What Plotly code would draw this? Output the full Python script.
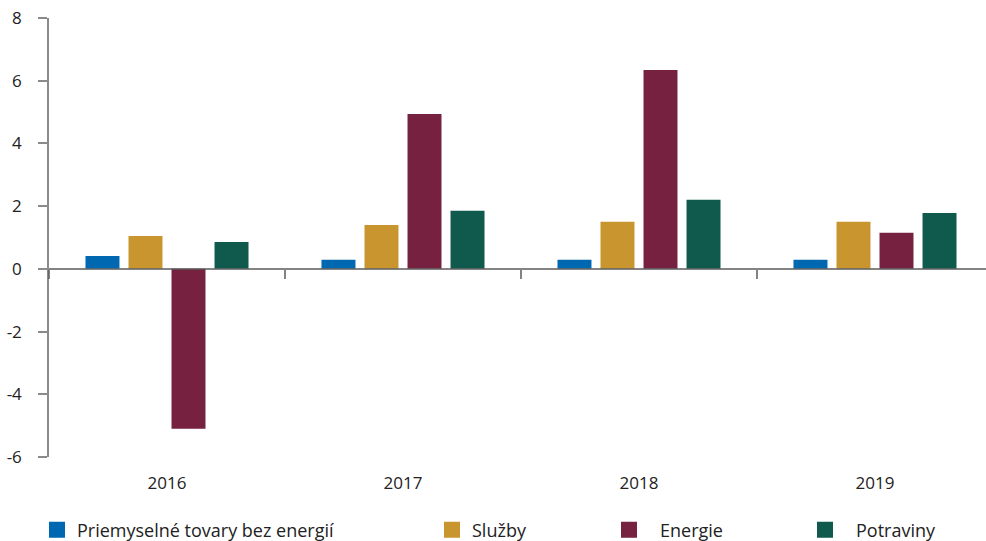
import plotly.graph_objects as go

years = ["2016", "2017", "2018", "2019"]
series_names = ["Priemyselné tovary bez energií", "Služby", "Energie", "Potraviny"]
priemysel = [0.41, 0.29, 0.29, 0.29]
sluzby = [1.05, 1.40, 1.50, 1.50]
energie = [-5.10, 4.94, 6.34, 1.15]
potraviny = [0.86, 1.85, 2.20, 1.78]
colors = ["#0067B1", "#C8952E", "#75213F", "#10594D"]
yticks = [-6, -4, -2, 0, 2, 4, 6, 8]
yticklabels = ["-6", "-4", "-2", "0", "2", "4", "6", "8"]

W, H = 986, 541
ml, mt, mb, mr = 49, 18, 84, 0
plot_w = W - ml - mr
plot_h = H - mt - mb

values = [priemysel, sluzby, energie, potraviny]
# legend placement: (left px, item width)
legend_place = [(37, 30), (432, 30), (598, 52), (794, 52)]

fig = go.Figure()
for i, (name, vals, col) in enumerate(zip(series_names, values, colors)):
    lg = "legend" if i == 0 else f"legend{i+1}"
    fig.add_trace(go.Bar(
        x=years, y=vals, name=name, marker_color=col, marker_line_width=0,
        showlegend=False, legendgroup=name,
    ))
    fig.add_trace(go.Scatter(
        x=[years[0]], y=[None], name=name, mode="markers", legend=lg,
        legendgroup=name,
        marker=dict(symbol="square", size=16, color=col),
        hoverinfo="skip",
    ))

# invisible trace for the zero-crossing category axis
fig.add_trace(go.Scatter(x=years, y=[None]*4, xaxis="x2", showlegend=False,
                         hoverinfo="skip", mode="markers"))

ymin, ymax = -6, 8
xr = [-0.5, -0.5 + plot_w / 236.0]
font = dict(family="'Open Sans', Lato, sans-serif", size=17, color="#222222")
lfont = dict(family="'Open Sans', Lato, sans-serif", size=18, color="#222222")

layout_legends = {}
for i, (px, iw) in enumerate(legend_place):
    key = "legend" if i == 0 else f"legend{i+1}"
    layout_legends[key] = dict(
        x=(px - ml) / plot_w, y=(mt + plot_h - 530) / plot_h,
        xanchor="left", yanchor="middle", orientation="h",
        font=lfont, bgcolor="rgba(0,0,0,0)", borderwidth=0,
        itemsizing="trace", itemwidth=iw,
    )

fig.update_layout(
    width=W, height=H,
    margin=dict(l=ml, r=mr, t=mt, b=mb, pad=0, autoexpand=False),
    paper_bgcolor="white", plot_bgcolor="white",
    font=font,
    barmode="group", bargap=0.271, bargroupgap=0.21,
    xaxis=dict(type="category", range=xr, showline=False, showgrid=False,
               zeroline=False, ticks="", ticklabelstandoff=14,
               tickfont=font),
    xaxis2=dict(type="category", range=xr, overlaying="x", anchor="free",
                position=(0 - ymin) / (ymax - ymin), side="bottom",
                showline=True, linecolor="rgba(90,90,90,0.75)", linewidth=2,
                ticks="outside", tickson="boundaries", ticklen=9,
                tickcolor="rgba(90,90,90,0.75)", tickwidth=2,
                showticklabels=False, showgrid=False, zeroline=False),
    yaxis=dict(range=[ymin, ymax], tickvals=yticks, ticktext=yticklabels,
               showgrid=False,
               zeroline=False, showline=True, linecolor="#8a8a8a",
               linewidth=1.5, ticks="outside", ticklen=9, tickwidth=1.5,
               tickcolor="#8a8a8a", ticklabelstandoff=13, tickfont=font),
    **layout_legends,
)

fig.write_html("out.html")
